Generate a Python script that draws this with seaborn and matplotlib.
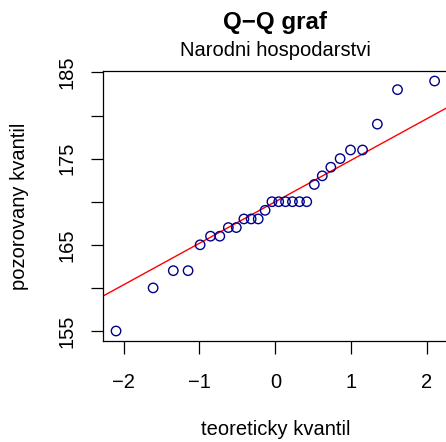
from statistics import NormalDist

import numpy as np
import seaborn as sns
import matplotlib
matplotlib.use("Agg")
import matplotlib.pyplot as plt

values = [155, 160, 162, 162, 165, 166, 166, 167, 167, 168, 168, 168, 169, 170,
          170, 170, 170, 170, 170, 172, 173, 174, 175, 176, 176, 179, 183, 184]
x_ticks = [-2, -1, 0, 1, 2]
y_ticks = [155, 160, 165, 170, 175, 180, 185]
y_ticklabels = ["155", "", "165", "", "175", "", "185"]

title = "Q\u2212Q graf"
subtitle = "Narodni hospodarstvi"
x_label = "teoreticky kvantil"
y_label = "pozorovany kvantil"

# theoretical quantiles like R's qqnorm (ppoints, a = 0.5)
n = len(values)
nd = NormalDist()
theo = [nd.inv_cdf((i + 0.5) / n) for i in range(n)]
obs = np.sort(values)

# qqline through the quartiles
q1, q3 = np.percentile(obs, [25, 75])
z1, z3 = nd.inv_cdf(0.25), nd.inv_cdf(0.75)
slope = (q3 - q1) / (z3 - z1)
intercept = q1 - slope * z1

sns.set_theme(style="ticks")
plt.rcParams["font.family"] = ["Liberation Sans", "DejaVu Sans"]
plt.rcParams.update({"text.color": "black", "axes.labelcolor": "black",
                     "xtick.color": "black", "ytick.color": "black"})

fig = plt.figure(figsize=(4.46, 4.42), dpi=100)
ax = fig.add_axes([0.2316, 0.2285, 0.7714, 0.6108])

sns.scatterplot(x=theo, y=obs, ax=ax, marker="o", s=46,
                facecolor="none", edgecolor="#00008B", linewidth=1.0, zorder=3)
ax.axline((0, intercept), slope=slope, color="red", linewidth=1.0, zorder=2)

xr = max(theo) - min(theo)
yr = obs.max() - obs.min()
ax.set_xlim(min(theo) - 0.04 * xr, max(theo) + 0.04 * xr)
ax.set_ylim(obs.min() - 0.04 * yr, obs.max() + 0.04 * yr)

ax.set_xticks(x_ticks)
ax.set_xticklabels([str(t).replace("-", "\u2212") for t in x_ticks])
ax.set_yticks(y_ticks)
ax.set_yticklabels(y_ticklabels, rotation=90, va="center")

ax.tick_params(axis="both", length=9, width=0.9, color="black",
               labelcolor="black", labelsize=14.5)
ax.tick_params(axis="x", pad=14)
ax.tick_params(axis="y", pad=10)
for s in ax.spines.values():
    s.set_visible(True)
    s.set_color("black")
    s.set_linewidth(0.9)

ax.set_xlabel(x_label, fontsize=14.5, color="black")
ax.set_ylabel(y_label, fontsize=14.5, color="black")
ax.xaxis.set_label_coords(0.5, (442 - 420) / 442 / 0.6108 - 0.2285 / 0.6108)
ax.yaxis.set_label_coords((29 - 103.3) / 344, 0.5)

fig.text(275.3 / 446, 1 - 29.5 / 442, title, ha="center", va="baseline",
         fontsize=17.4, fontweight="bold", color="black")
fig.text(275.3 / 446, 1 - 56 / 442, subtitle, ha="center", va="baseline",
         fontsize=14.5, color="black")

fig.savefig("out.png", dpi=100)
